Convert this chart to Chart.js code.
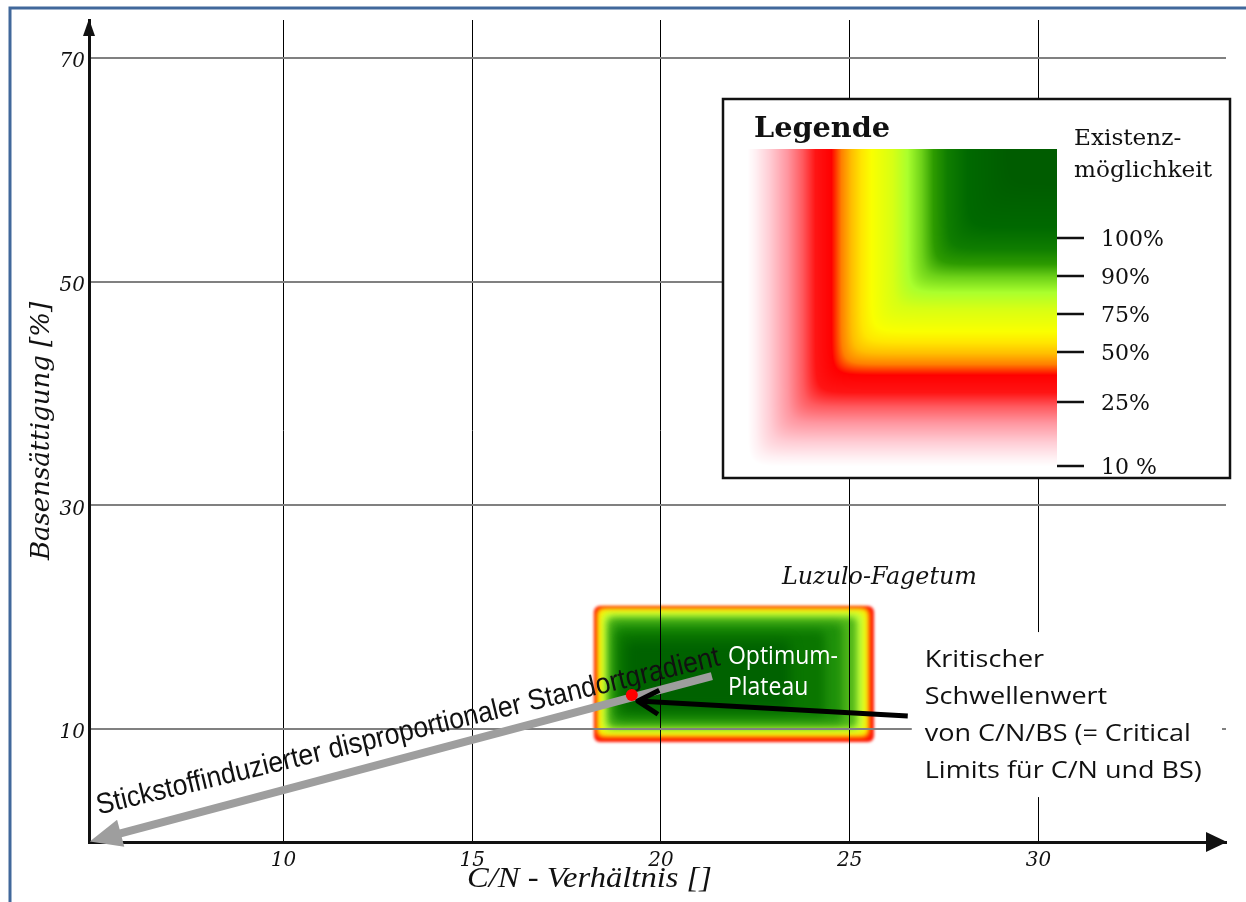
<!DOCTYPE html>
<html lang="de">
<head>
<meta charset="UTF-8" />
<title>Luzulo-Fagetum: C/N-Verhältnis und Basensättigung</title>
<script src="https://cdn.jsdelivr.net/npm/chart.js"></script>
<style>
  html, body { margin: 0; padding: 0; background: #fff; overflow: hidden; }
  #wrap { position: relative; width: 1246px; height: 902px; }
</style>
</head>
<body>
<div id="wrap"><canvas id="chart" width="1246" height="902"></canvas></div>

<script>
  // --- data ---
  const xTicks = [10, 15, 20, 25, 30];
  const yTicks = [10, 30, 50, 70];
  const zoneX = [18.2, 25.67];          // Luzulo-Fagetum, C/N range
  const zoneY = [8.75, 21.09];          // Luzulo-Fagetum, BS range
  const criticalX = [19.23];
  const criticalY = [13.05];
  const gradientArrowX = [21.35, 4.87]; // start, tip
  const gradientArrowY = [14.74, -0.05];
  const thresholdArrowX = [26.54, 19.39];
  const thresholdArrowY = [11.16, 12.5];
  const legendLevels = ['100%', '90%', '75%', '50%', '25%', '10 %'];

  // --- helpers ---
  const px = (c, x, y) => [c.scales.x.getPixelForValue(x), c.scales.y.getPixelForValue(y)];

  function drawBlock(ctx, lines, x, y, gap, font, color, refWidth, angle) {
    ctx.save();
    ctx.font = font;
    const widest = Math.max(...lines.map(t => ctx.measureText(t).width));
    const k = refWidth ? refWidth / widest : 1;
    ctx.fillStyle = color;
    ctx.textBaseline = 'alphabetic';
    ctx.textAlign = 'left';
    ctx.translate(x, y);
    if (angle) ctx.rotate(angle);
    lines.forEach((t, i) => {
      ctx.save();
      ctx.translate(0, i * gap);
      ctx.scale(k, 1);
      ctx.fillText(t, 0, 0);
      ctx.restore();
    });
    ctx.restore();
  }

  function drawZone(ctx, x0, y0, x1, y1) {
    const layers = [
      ['#ff1200', 1, 1, 1, 1, 1.5],
      ['#ffee00', 4, 3, 6, 6, 2.5],
      ['#c4ff3a', 9, 7, 11, 11, 3],
      ['#52b81a', 14, 12, 18, 15, 3],
      ['#1f900a', 19, 18, 32, 20, 4],
      ['#0a7600', 24, 26, 50, 27, 5],
      ['#006200', 32, 36, 85, 34, 6]
    ];
    ctx.save();
    for (const [c, l, t, r, b, blur] of layers) {
      ctx.filter = 'blur(' + blur + 'px)';
      ctx.fillStyle = c;
      ctx.beginPath();
      ctx.roundRect(x0 + l, y0 + t, x1 - x0 - l - r, y1 - y0 - t - b, 6);
      ctx.fill();
    }
    ctx.restore();
  }

  // colour ramp of the legend square, distance in px from the low edge
  const ramp = [
    [0, 255, 255, 255], [8, 255, 240, 243], [22, 255, 205, 213], [40, 255, 150, 160],
    [55, 255, 90, 95], [68, 255, 20, 20], [84, 255, 0, 0], [94, 255, 128, 0],
    [104, 255, 190, 0], [114, 255, 230, 0], [124, 250, 255, 0], [145, 215, 255, 20],
    [160, 170, 255, 45], [174, 110, 210, 25], [186, 45, 155, 0], [200, 15, 125, 0],
    [220, 0, 105, 0], [260, 0, 92, 0]
  ];
  function rampColor(d) {
    if (d <= ramp[0][0]) return ramp[0].slice(1);
    for (let i = 1; i < ramp.length; i++) {
      if (d <= ramp[i][0]) {
        const a = ramp[i - 1], b = ramp[i], f = (d - a[0]) / (b[0] - a[0]);
        return [1, 2, 3].map(j => a[j] + (b[j] - a[j]) * f);
      }
    }
    return ramp[ramp.length - 1].slice(1);
  }
  let legendImg = null;
  function legendSquare(w, h) {
    if (legendImg) return legendImg;
    const c = document.createElement('canvas');
    c.width = w; c.height = h;
    const g = c.getContext('2d');
    const img = g.createImageData(w, h);
    const k = 8;
    for (let j = 0; j < h; j++) {
      for (let i = 0; i < w; i++) {
        const dx = i, dy = (h - 1 - j) * 0.92;
        const d = -k * Math.log(Math.exp(-dx / k) + Math.exp(-dy / k));
        const [r, gg, b] = rampColor(Math.max(0, d));
        const o = (j * w + i) * 4;
        img.data[o] = r; img.data[o + 1] = gg; img.data[o + 2] = b; img.data[o + 3] = 255;
      }
    }
    g.putImageData(img, 0, 0);
    legendImg = c;
    return c;
  }

  function drawLegend(ctx) {
    ctx.save();
    ctx.fillStyle = '#fff';
    ctx.fillRect(723, 99, 507, 379);
    ctx.strokeStyle = '#111';
    ctx.lineWidth = 2.5;
    ctx.strokeRect(723, 99, 507, 379);
    ctx.drawImage(legendSquare(310, 318), 747, 149);

    drawBlock(ctx, ['Legende'], 754, 137, 0, 'bold 27px "DejaVu Serif"', '#111', 136);
    drawBlock(ctx, ['Existenz-', 'möglichkeit'], 1074, 145, 32, '23px "DejaVu Serif"', '#111', 138);

    const tickY = [238, 276, 314, 352, 402, 466];
    ctx.strokeStyle = '#111';
    ctx.lineWidth = 2.5;
    ctx.font = '22px "DejaVu Serif"';
    ctx.fillStyle = '#111';
    ctx.textBaseline = 'middle';
    legendLevels.forEach((lab, i) => {
      ctx.beginPath();
      ctx.moveTo(1057, tickY[i]);
      ctx.lineTo(1084, tickY[i]);
      ctx.stroke();
      ctx.fillText(lab, 1101, tickY[i] + 2);
    });
    ctx.restore();
  }

  function arrowFilled(ctx, sx, sy, tx, ty, width, color, len, half) {
    const dl = Math.hypot(sx - tx, sy - ty);
    const ux = (sx - tx) / dl, uy = (sy - ty) / dl;
    ctx.save();
    ctx.strokeStyle = color;
    ctx.fillStyle = color;
    ctx.lineWidth = width;
    ctx.beginPath();
    ctx.moveTo(sx, sy);
    ctx.lineTo(tx + ux * (len - 6), ty + uy * (len - 6));
    ctx.stroke();
    const bx = tx + ux * len, by = ty + uy * len;
    ctx.beginPath();
    ctx.moveTo(tx, ty);
    ctx.lineTo(bx - uy * half, by + ux * half);
    ctx.lineTo(bx + uy * half, by - ux * half);
    ctx.closePath();
    ctx.fill();
    ctx.restore();
  }

  function arrowOpen(ctx, sx, sy, tx, ty, width, color, len, ang) {
    const a = Math.atan2(sy - ty, sx - tx);
    ctx.save();
    ctx.strokeStyle = color;
    ctx.lineWidth = width;
    ctx.lineJoin = 'round';
    ctx.beginPath();
    ctx.moveTo(sx, sy);
    ctx.lineTo(tx, ty);
    ctx.stroke();
    ctx.beginPath();
    ctx.moveTo(tx + Math.cos(a - ang) * len, ty + Math.sin(a - ang) * len);
    ctx.lineTo(tx, ty);
    ctx.lineTo(tx + Math.cos(a + ang) * len, ty + Math.sin(a + ang) * len);
    ctx.stroke();
    ctx.restore();
  }

  const annotations = {
    id: 'annotations',
    beforeDraw(chart) {
      const [x0, y1] = px(chart, zoneX[0], zoneY[0]);
      const [x1, y0] = px(chart, zoneX[1], zoneY[1]);
      drawZone(chart.ctx, x0, y0, x1, y1);
    },
    beforeDatasetsDraw(chart) {
      const ctx = chart.ctx;
      drawLegend(ctx);

      // label of the threshold, on a white box
      const [sx, sy] = px(chart, thresholdArrowX[0], thresholdArrowY[0]);
      ctx.fillStyle = '#fff';
      ctx.fillRect(sx + 4, sy - 84, 1222 - sx - 4, 165);
      drawBlock(ctx, ['Kritischer', 'Schwellenwert', 'von C/N/BS (= Critical', 'Limits für C/N und BS)'],
        sx + 17, sy - 49, 37, '24px "Open Sans"', '#111', 277);

      // gradient arrow and its label
      const [gx0, gy0] = px(chart, gradientArrowX[0], gradientArrowY[0]);
      const [gx1, gy1] = px(chart, gradientArrowX[1], gradientArrowY[1]);
      arrowFilled(ctx, gx0, gy0, gx1, gy1, 8, '#9e9e9e', 32, 14);
      drawBlock(ctx, ['Stickstoffinduzierter disproportionaler Standortgradient'],
        gx1 + 9, gy1 - 27, 0, '29px "Liberation Sans Narrow", "Liberation Sans"', '#111', 640,
        -13.5 * Math.PI / 180);

      const [zx0, zy0] = px(chart, zoneX[0], zoneY[1]);
      drawBlock(ctx, ['Optimum-', 'Plateau'], zx0 + 135, zy0 + 59, 31, '26px "Open Sans"', '#fff', 110);
      drawBlock(ctx, ['Luzulo-Fagetum'], zx0 + 189, zy0 - 21, 0, 'italic 25px "DejaVu Serif"', '#111', 195);
    },
    afterDatasetsDraw(chart) {
      const [sx, sy] = px(chart, thresholdArrowX[0], thresholdArrowY[0]);
      const [tx, ty] = px(chart, thresholdArrowX[1], thresholdArrowY[1]);
      arrowOpen(chart.ctx, sx, sy, tx, ty, 5, '#000', 24, 30 * Math.PI / 180);
    },
    afterDraw(chart) {
      const ctx = chart.ctx;
      const a = chart.chartArea;
      ctx.save();
      ctx.fillStyle = '#111';
      // y axis arrow head
      ctx.beginPath();
      ctx.moveTo(a.left, a.top - 1);
      ctx.lineTo(a.left - 6, a.top + 16);
      ctx.lineTo(a.left + 6, a.top + 16);
      ctx.closePath();
      ctx.fill();
      // x axis arrow head
      ctx.beginPath();
      ctx.moveTo(a.right + 1, a.bottom);
      ctx.lineTo(a.right - 20, a.bottom - 10);
      ctx.lineTo(a.right - 20, a.bottom + 10);
      ctx.closePath();
      ctx.fill();
      // frame of the figure
      ctx.strokeStyle = '#41689b';
      ctx.lineWidth = 3;
      ctx.beginPath();
      ctx.moveTo(10, 902);
      ctx.lineTo(10, 8);
      ctx.lineTo(1246, 8);
      ctx.stroke();
      ctx.restore();
      drawBlock(ctx, ['C/N - Verhältnis []'], 467, 887, 0, 'italic 29px "Liberation Serif"', '#111', 245);
    }
  };

  const tickFont = { family: 'DejaVu Serif', style: 'italic', size: 20 };

  new Chart(document.getElementById('chart'), {
    type: 'scatter',
    data: {
      datasets: [{
        label: 'Kritischer Schwellenwert',
        data: criticalX.map((x, i) => ({ x, y: criticalY[i] })),
        pointRadius: 6,
        pointBackgroundColor: '#ff0000',
        pointBorderWidth: 0
      }]
    },
    options: {
      responsive: false,
      animation: false,
      devicePixelRatio: 1,
      layout: { padding: { top: 20, right: 20, left: 0, bottom: 0 } },
      plugins: { legend: { display: false }, tooltip: { enabled: false } },
      scales: {
        x: {
          type: 'linear',
          min: 4.85,
          max: 34.97,
          afterBuildTicks: s => { s.ticks = xTicks.map(v => ({ value: v })); },
          afterFit: s => { s.height = 60; },
          grid: { color: '#000', lineWidth: 1, drawTicks: false },
          border: { color: '#111', width: 3 },
          ticks: { padding: 7, font: tickFont, color: '#111', maxRotation: 0, autoSkip: false, callback: v => String(v) }
        },
        y: {
          type: 'linear',
          min: -0.1,
          max: 73.4,
          afterBuildTicks: s => { s.ticks = yTicks.map(v => ({ value: v })); },
          afterFit: s => { s.width = 89; },
          grid: { color: '#808080', lineWidth: 2, drawTicks: false },
          border: { color: '#111', width: 3 },
          ticks: { padding: 4, labelOffset: 4, font: tickFont, color: '#111', autoSkip: false, callback: v => String(v) },
          title: {
            display: true,
            text: 'Basensättigung [%]',
            font: { family: 'DejaVu Serif', style: 'italic', size: 26 },
            color: '#111',
            padding: { top: 27, bottom: 0 }
          }
        }
      }
    },
    plugins: [annotations]
  });
</script>
</body>
</html>
